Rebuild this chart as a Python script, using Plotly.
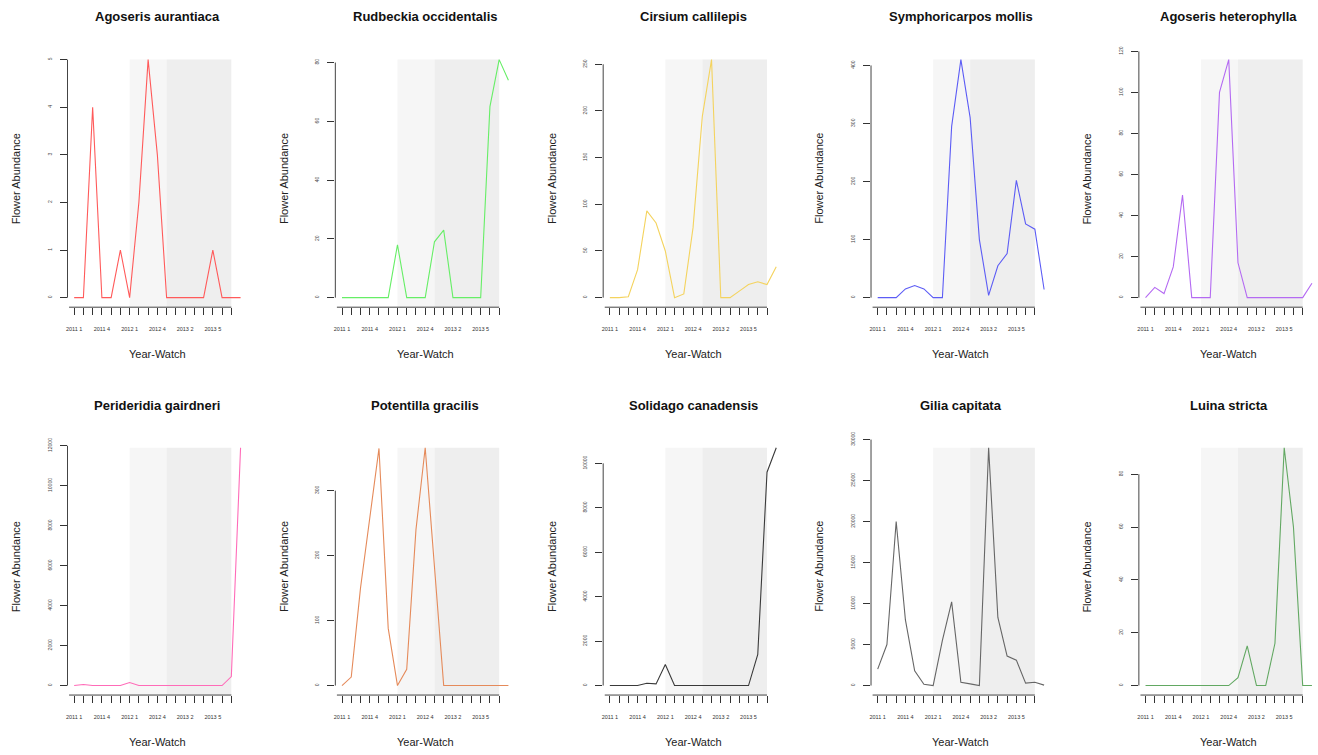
import plotly.graph_objects as go
from plotly.subplots import make_subplots
import math

species = ["Agoseris aurantiaca", "Rudbeckia occidentalis", "Cirsium callilepis",
           "Symphoricarpos mollis", "Agoseris heterophylla", "Perideridia gairdneri",
           "Potentilla gracilis", "Solidago canadensis", "Gilia capitata", "Luina stricta"]

watch_labels = ["2011 1", "2011 2", "2011 3", "2011 4", "2011 5", "2011 6",
                "2012 1", "2012 2", "2012 3", "2012 4", "2012 5",
                "2013 1", "2013 2", "2013 3", "2013 4", "2013 5", "2013 6", "2013 7"]
shown_labels = ["2011 1", "2011 4", "2012 1", "2012 4", "2013 2", "2013 5"]

agoseris_aurantiaca = [0, 0, 4, 0, 0, 1, 0, 2, 5, 3, 0, 0, 0, 0, 0, 1, 0, 0, 0]
rudbeckia_occidentalis = [0, 0, 0, 0, 0, 0, 18, 0, 0, 0, 19, 23, 0, 0, 0, 0, 65, 81, 74]
cirsium_callilepis = [0, 0, 1, 30, 93, 80, 50, 0, 4, 75, 194, 255, 0, 0, 7, 14, 17, 14, 33]
symphoricarpos_mollis = [0, 0, 0, 15, 21, 15, 0, 0, 295, 410, 310, 100, 4, 55, 76, 202, 127, 118, 14]
agoseris_heterophylla = [0, 5, 2, 15, 50, 0, 0, 0, 100, 116, 17, 0, 0, 0, 0, 0, 0, 0, 7]
perideridia_gairdneri = [0, 50, 0, 0, 0, 0, 150, 0, 0, 0, 0, 0, 0, 0, 0, 0, 0, 450, 11900]
potentilla_gracilis = [0, 13, 150, 260, 365, 88, 0, 25, 240, 366, 190, 0, 0, 0, 0, 0, 0, 0, 0]
solidago_canadensis = [0, 0, 0, 0, 100, 75, 950, 0, 0, 0, 0, 0, 0, 0, 0, 0, 1400, 9600, 10700]
gilia_capitata = [2000, 5000, 20000, 8000, 1800, 150, 0, 5500, 10200, 400, 200, 0, 29000, 8300, 3600, 3100, 300, 400, 50]
luina_stricta = [0, 0, 0, 0, 0, 0, 0, 0, 0, 0, 3, 15, 0, 0, 16, 90, 60, 0, 0]

series = [agoseris_aurantiaca, rudbeckia_occidentalis, cirsium_callilepis,
          symphoricarpos_mollis, agoseris_heterophylla, perideridia_gairdneri,
          potentilla_gracilis, solidago_canadensis, gilia_capitata, luina_stricta]

y_steps = [1, 20, 50, 100, 20, 2000, 100, 2000, 5000, 20]

colors = ["#FF5A5A", "#66EE66", "#F4D35E", "#5C5CF5", "#B46AF2",
          "#FF6BB8", "#E58A5A", "#3A3A3A", "#666666", "#62A862"]

# shaded periods (watch index)
period1 = (7, 11)
period2 = (11, 18)
shade1 = "#F6F6F6"
shade2 = "#EEEEEE"

W, H = 1318, 755
fig = make_subplots(rows=2, cols=5)

px_per_unit = 180 / 19.44
col_left = [65.6 + 268.25 * c for c in range(5)]
row_top = [43.5, 435.3]
row_bot = [303.0, 694.5]

FONT = "Liberation Sans, Arial, Helvetica, sans-serif"
annotations = []
shapes = []
xs = list(range(1, 20))
tickvals = list(range(1, 19))
ticktext = [lab if lab in shown_labels else "" for lab in watch_labels]

for i, (name, ys) in enumerate(zip(species, series)):
    r, c = i // 5, i % 5
    left = col_left[c]
    right = min(W, left + 180)
    x0d, x1d = left / W, right / W
    y0d, y1d = 1 - row_bot[r] / H, 1 - row_top[r] / H
    m = max(ys)
    yr = [-0.04 * m, 1.04 * m]
    step = y_steps[i]
    last_tick = math.floor(1.04 * m / step) * step
    xr = [0.28, 0.28 + (right - left) / px_per_unit]

    fig.add_trace(go.Scatter(x=xs, y=ys, mode="lines",
                             line=dict(color=colors[i], width=1.1),
                             showlegend=False, hoverinfo="skip"), row=r + 1, col=c + 1)
    k = i + 1
    xa = "xaxis" if k == 1 else f"xaxis{k}"
    ya = "yaxis" if k == 1 else f"yaxis{k}"
    xref = "x" if k == 1 else f"x{k}"
    yref = "y" if k == 1 else f"y{k}"
    fig.update_layout(**{
        xa: dict(domain=[x0d, x1d], range=xr, tickmode="array", tickvals=tickvals,
                 ticktext=ticktext, ticks="outside", ticklen=7, tickwidth=1,
                 tickcolor="#333333", tickfont=dict(size=5.5, color="#333333", family=FONT),
                 showgrid=False, zeroline=False, showline=False, tickangle=0,
                 ticklabelstandoff=9, fixedrange=True),
        ya: dict(domain=[y0d, y1d], range=yr, tickmode="linear", tick0=0, dtick=step,
                 tickformat="d",
                 ticks="outside", ticklen=7, tickwidth=1, tickcolor="#333333",
                 tickfont=dict(size=5, color="#444444", family=FONT), tickangle=-90,
                 showgrid=False, zeroline=False, showline=False, ticklabelstandoff=6,
                 fixedrange=True),
    })
    # shaded periods
    shapes.append(dict(type="rect", xref=xref, yref=yref, x0=period1[0], x1=period1[1],
                       y0=yr[0], y1=m, fillcolor=shade1, line=dict(width=0), layer="below"))
    shapes.append(dict(type="rect", xref=xref, yref=yref, x0=period2[0], x1=period2[1],
                       y0=yr[0], y1=m, fillcolor=shade2, line=dict(width=0), layer="below"))
    # axis lines (R style: between first and last tick)
    shapes.append(dict(type="line", xref="paper", yref=yref, x0=x0d, x1=x0d, y0=0, y1=last_tick,
                       line=dict(color="#444444", width=1)))
    shapes.append(dict(type="line", xref=xref, yref="paper", x0=0.45, x1=18, y0=y0d, y1=y0d,
                       line=dict(color="#444444", width=1)))

    cx = (left + 180 / 2) / W
    annotations.append(dict(text=f"<b>{name}</b>", x=cx, y=1 - (10 + 392 * r) / H,
                            xref="paper", yref="paper", showarrow=False,
                            font=dict(size=13, color="#111111", family=FONT),
                            xanchor="center", yanchor="middle"))
    annotations.append(dict(text="Flower Abundance", x=(left - 52) / W,
                            y=(y0d + y1d) / 2, xref="paper", yref="paper", showarrow=False,
                            textangle=-90, font=dict(size=11, color="#222222", family=FONT),
                            xanchor="center", yanchor="middle"))
    annotations.append(dict(text="Year-Watch", x=cx, y=1 - (row_bot[r] + 47) / H,
                            xref="paper", yref="paper", showarrow=False,
                            font=dict(size=11, color="#222222", family=FONT),
                            xanchor="center", yanchor="middle"))

fig.update_layout(width=W, height=H, margin=dict(l=0, r=0, t=0, b=0),
                  paper_bgcolor="white", plot_bgcolor="white",
                  shapes=shapes, annotations=annotations, showlegend=False,
                  font=dict(family=FONT), hovermode=False)

fig.write_html("out.html", config={"displayModeBar": False, "staticPlot": True},
               post_script="document.body.style.margin='0';document.body.style.overflow='hidden';")
